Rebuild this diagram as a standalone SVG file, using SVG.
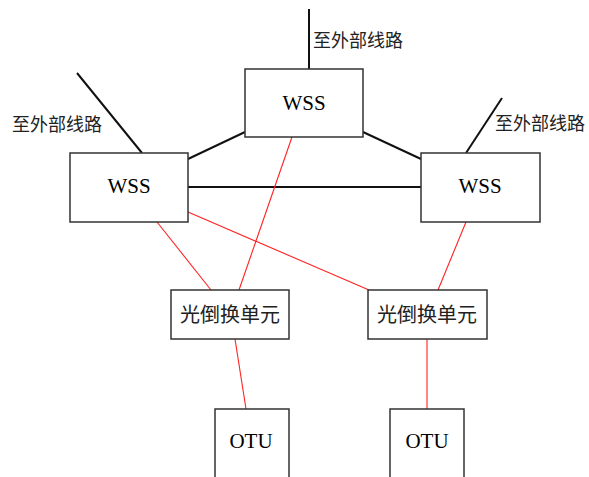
<svg xmlns="http://www.w3.org/2000/svg" width="589" height="477" viewBox="0 0 589 477">
<style>
.box{fill:#fff;stroke:#333;stroke-width:1.5}
.blk{stroke:#111;stroke-width:2;fill:none}
.red{stroke:#f22;stroke-width:1.1;fill:none}
.en{font-family:"Liberation Serif",serif;font-size:21px;fill:#000;text-anchor:middle}
.cn{font-family:"Noto Sans CJK SC",sans-serif;font-size:18px;fill:#222}
.cn2{font-family:"Noto Sans CJK SC",sans-serif;font-size:20px;fill:#222;text-anchor:middle}
</style>
<rect width="589" height="477" fill="#fff"/>
<g id="connectors">
<line class="blk" x1="142" y1="153" x2="77" y2="73"/>
<line class="blk" x1="309" y1="9" x2="309" y2="69"/>
<line class="blk" x1="466" y1="153" x2="502" y2="98"/>
<line class="blk" x1="188" y1="159" x2="245" y2="132"/>
<line class="blk" x1="363" y1="132" x2="421" y2="159"/>
<line class="blk" x1="188" y1="187" x2="421" y2="187"/>
<line class="red" x1="157" y1="222" x2="211" y2="290"/>
<line class="red" x1="292" y1="137" x2="239" y2="290"/>
<line class="red" x1="188" y1="212" x2="369" y2="290"/>
<line class="red" x1="466" y1="222" x2="438" y2="290"/>
<line class="red" x1="235" y1="339" x2="246" y2="409"/>
<line class="red" x1="427" y1="339" x2="427" y2="409"/>
</g>
<g id="label-left"><text class="cn" x="12" y="131">至外部线路</text></g>
<g id="label-top"><text class="cn" x="313" y="47">至外部线路</text></g>
<g id="label-right"><text class="cn" x="495" y="130">至外部线路</text></g>
<g id="wss-left"><rect class="box" x="70" y="153" width="118" height="69"/><text class="en" x="129" y="193">WSS</text></g>
<g id="wss-top"><rect class="box" x="245" y="69" width="118" height="68"/><text class="en" x="304" y="110">WSS</text></g>
<g id="wss-right"><rect class="box" x="421" y="153" width="119" height="69"/><text class="en" x="480" y="193">WSS</text></g>
<g id="osu-left"><rect class="box" x="171" y="290" width="118" height="49"/><text class="cn2" x="230" y="322">光倒换单元</text></g>
<g id="osu-right"><rect class="box" x="368" y="290" width="119" height="49"/><text class="cn2" x="427" y="322">光倒换单元</text></g>
<g id="otu-left"><rect class="box" x="215" y="409" width="74" height="80"/><text class="en" x="251" y="448">OTU</text></g>
<g id="otu-right"><rect class="box" x="390" y="409" width="74" height="80"/><text class="en" x="427" y="448">OTU</text></g>
</svg>
